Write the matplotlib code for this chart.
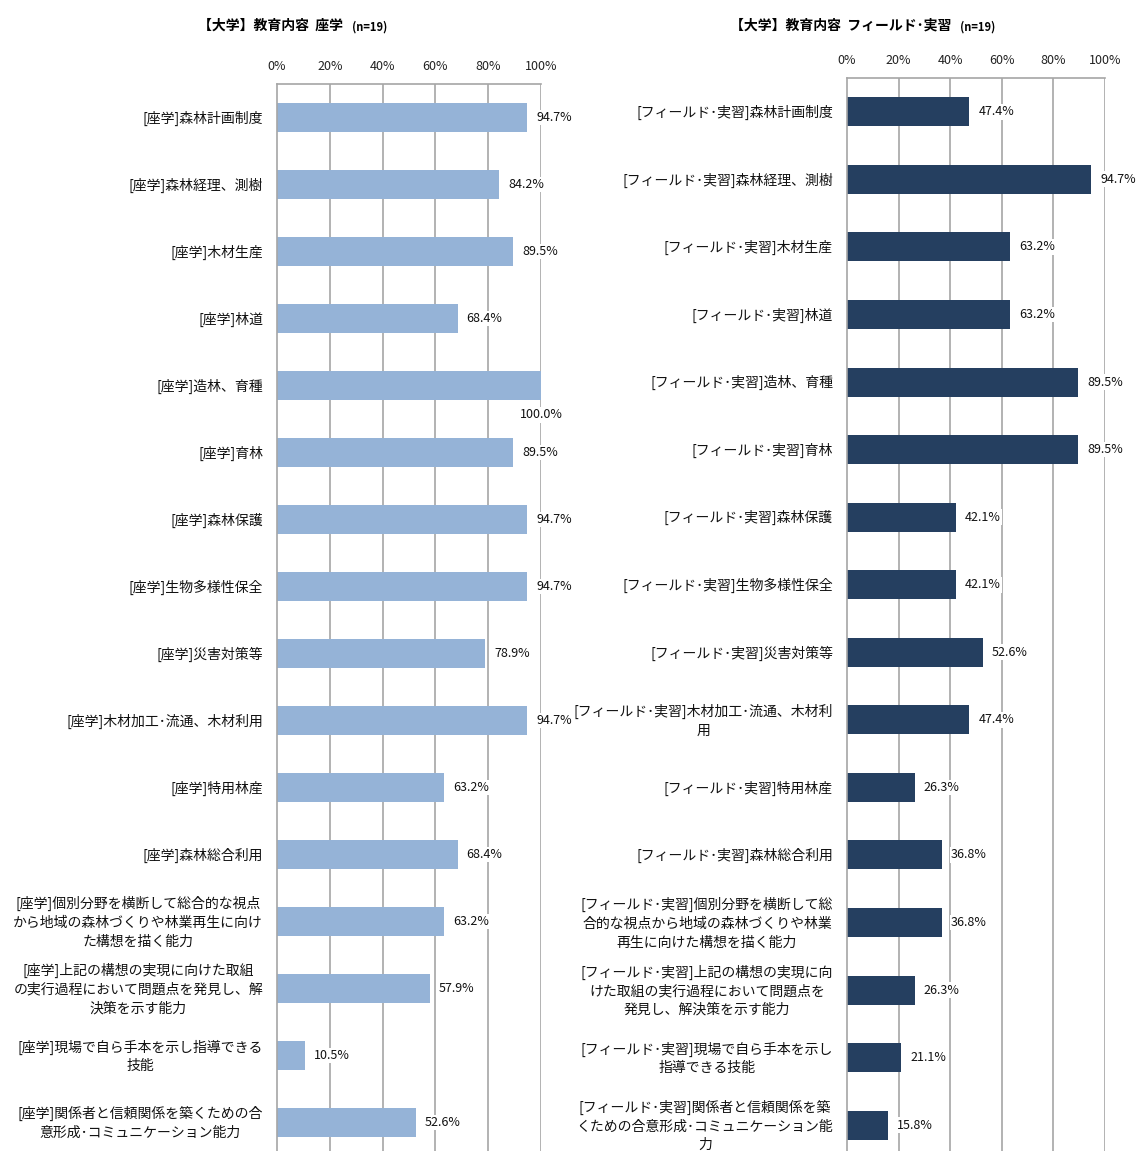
import matplotlib
matplotlib.use("Agg")
import matplotlib.pyplot as plt

plt.rcParams['font.family'] = ['Noto Sans CJK JP', 'DejaVu Sans']

left_labels = [
    "[座学]森林計画制度",
    "[座学]森林経理、測樹",
    "[座学]木材生産",
    "[座学]林道",
    "[座学]造林、育種",
    "[座学]育林",
    "[座学]森林保護",
    "[座学]生物多様性保全",
    "[座学]災害対策等",
    "[座学]木材加工･流通、木材利用",
    "[座学]特用林産",
    "[座学]森林総合利用",
    "[座学]個別分野を横断して総合的な視点\nから地域の森林づくりや林業再生に向け\nた構想を描く能力",
    "[座学]上記の構想の実現に向けた取組\nの実行過程において問題点を発見し、解\n決策を示す能力",
    "[座学]現場で自ら手本を示し指導できる\n技能",
    "[座学]関係者と信頼関係を築くための合\n意形成･コミュニケーション能力",
]
left_values = [94.7, 84.2, 89.5, 68.4, 100.0, 89.5, 94.7, 94.7, 78.9, 94.7,
               63.2, 68.4, 63.2, 57.9, 10.5, 52.6]

right_labels = [
    "[フィールド･実習]森林計画制度",
    "[フィールド･実習]森林経理、測樹",
    "[フィールド･実習]木材生産",
    "[フィールド･実習]林道",
    "[フィールド･実習]造林、育種",
    "[フィールド･実習]育林",
    "[フィールド･実習]森林保護",
    "[フィールド･実習]生物多様性保全",
    "[フィールド･実習]災害対策等",
    "[フィールド･実習]木材加工･流通、木材利\n用",
    "[フィールド･実習]特用林産",
    "[フィールド･実習]森林総合利用",
    "[フィールド･実習]個別分野を横断して総\n合的な視点から地域の森林づくりや林業\n再生に向けた構想を描く能力",
    "[フィールド･実習]上記の構想の実現に向\nけた取組の実行過程において問題点を\n発見し、解決策を示す能力",
    "[フィールド･実習]現場で自ら手本を示し\n指導できる技能",
    "[フィールド･実習]関係者と信頼関係を築\nくための合意形成･コミュニケーション能\n力",
]
right_values = [47.4, 94.7, 63.2, 63.2, 89.5, 89.5, 42.1, 42.1, 52.6, 47.4,
                26.3, 36.8, 36.8, 26.3, 21.1, 15.8]

xticks = [0, 20, 40, 60, 80, 100]
xtick_labels = ["0%", "20%", "40%", "60%", "80%", "100%"]

left_title = "【大学】教育内容  座学"
right_title = "【大学】教育内容  フィールド･実習"
n_label = "(n=19)"

W, H = 1137, 1151
fig = plt.figure(figsize=(W / 100, H / 100), dpi=100)

GRID = "#a6a6a6"


def make_panel(rect, labels, values, color):
    ax = fig.add_axes(rect)
    n = len(labels)
    ys = list(range(n))
    ax.barh(ys, values, height=0.43, color=color, zorder=2)
    ax.set_xlim(0, 100)
    ax.set_ylim(n - 0.5, -0.5)
    ax.xaxis.tick_top()
    ax.set_xticks(xticks)
    ax.set_xticklabels(xtick_labels, fontsize=9, color="#222222")
    ax.set_yticks(ys)
    ax.set_yticklabels([])
    ax.tick_params(axis='both', length=0)
    ax.tick_params(axis='x', pad=8)
    for y, lab in zip(ys, labels):
        ax.annotate(lab, (0, y), xytext=(-10, -0.5), textcoords='offset points',
                    ha='right', va='center', ma='center', fontsize=10,
                    color="#111111", linespacing=1.42, annotation_clip=False)
    for x in xticks[1:]:
        ax.axvline(x, color=GRID, lw=1.2, zorder=0)
    for s in ['top', 'left']:
        ax.spines[s].set_color(GRID)
        ax.spines[s].set_linewidth(1.2)
    for s in ['right', 'bottom']:
        ax.spines[s].set_visible(False)
    for y, v in zip(ys, values):
        txt = f"{v:.1f}%"
        if v >= 100:
            ax.text(v, y + 0.44, txt, ha='center', va='center', fontsize=9,
                    color="#111111", zorder=3,
                    bbox=dict(facecolor='white', edgecolor='none', pad=1))
        else:
            ax.annotate(txt, (v, y), xytext=(6.5, 0), textcoords='offset points',
                        ha='left', va='center', fontsize=9, color="#111111",
                        zorder=3,
                        bbox=dict(facecolor='white', edgecolor='none', pad=1))
    return ax


# left panel
lx0, lx1, ly0, ly1 = 277, 541, 84, 1156
make_panel([lx0 / W, 1 - ly1 / H, (lx1 - lx0) / W, (ly1 - ly0) / H],
           left_labels, left_values, "#95b3d7")

# right panel
rx0, rx1, ry0, ry1 = 847, 1105, 78, 1159
make_panel([rx0 / W, 1 - ry1 / H, (rx1 - rx0) / W, (ry1 - ry0) / H],
           right_labels, right_values, "#253f60")

# titles
fig.canvas.draw()
renderer = fig.canvas.get_renderer()
for x0, title in [(198, left_title), (730, right_title)]:
    t = fig.text(x0 / W, 1 - 26 / H, title, fontsize=10, fontweight='bold',
                 ha='left', va='center')
    ext = t.get_window_extent(renderer)
    fig.text((ext.x1 + 9) / W, 1 - 27 / H, n_label, fontsize=8,
             fontweight='bold', ha='left', va='center')

fig.savefig("out.png", dpi=100, facecolor='white')
